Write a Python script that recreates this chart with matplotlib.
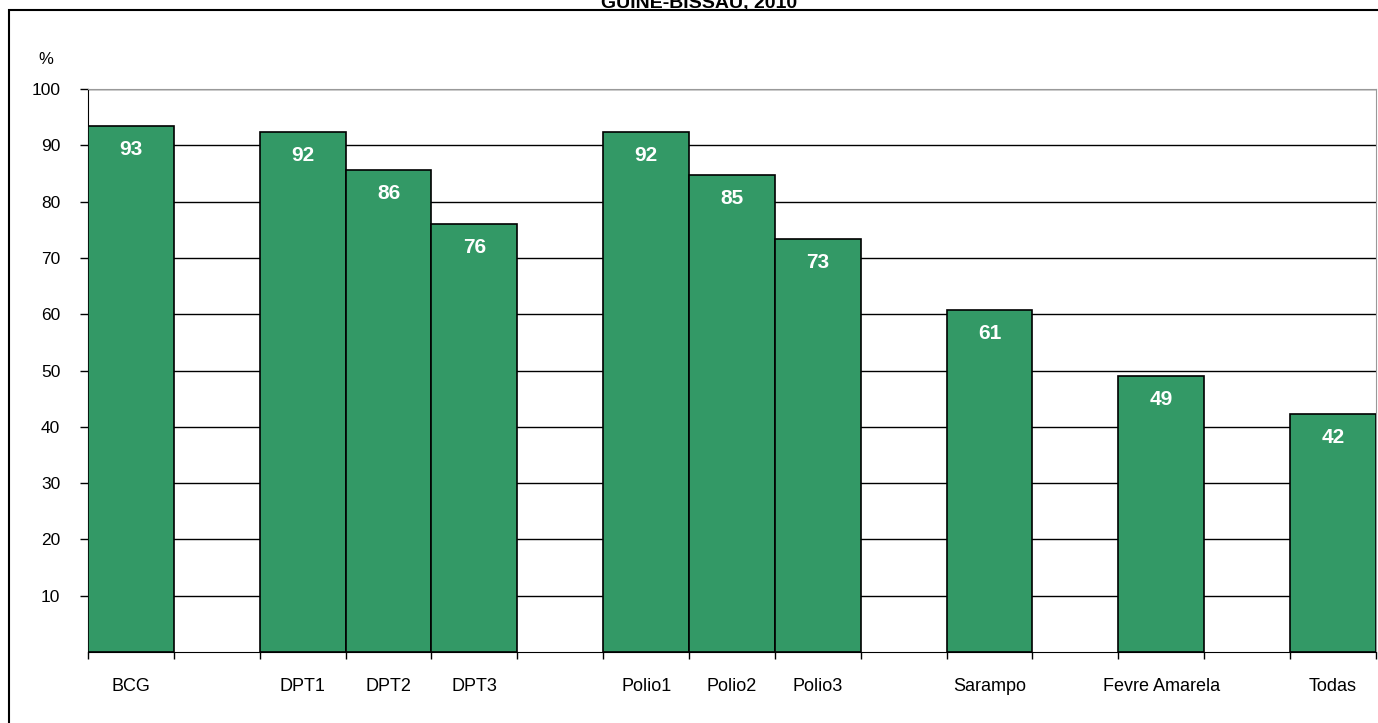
import numpy as np
import matplotlib
matplotlib.use('Agg')
import matplotlib.pyplot as plt
from matplotlib.patches import Rectangle

# data (blank categories = empty columns of the original sheet)
categories = ['BCG', '', 'DPT1', 'DPT2', 'DPT3', '', 'Polio1', 'Polio2', 'Polio3',
              '', 'Sarampo', '', 'Fevre Amarela', '', 'Todas']
coverage = [93.4, None, 92.3, 85.6, 76.0, None, 92.3, 84.8, 73.4,
            None, 60.7, None, 49.0, None, 42.3]
yticks = [10, 20, 30, 40, 50, 60, 70, 80, 90, 100]
title = 'GUINÉ-BISSAU, 2010'

plt.rcParams['font.family'] = ['Liberation Sans', 'DejaVu Sans']

fig = plt.figure(figsize=(13.78, 7.23), dpi=100)
ax = fig.add_axes([0.0639, 0.0982, 0.9346, 0.7787])

vals = np.array([np.nan if v is None else v for v in coverage])
x = np.arange(len(categories))
bars = ax.bar(x, vals, width=1.0, color='#339966', edgecolor='black',
              linewidth=1.2, zorder=3)

for xi, v in zip(x, vals):
    if np.isnan(v):
        continue
    ax.annotate('%.0f' % v, (xi, v), xytext=(0, -17), textcoords='offset points',
                ha='center', va='center', color='white', fontsize=15,
                fontweight='bold', zorder=4)

ax.set_xlim(-0.5, len(categories) - 0.5)
ax.set_ylim(0, 100)
ax.set_yticks(yticks)
ax.set_yticklabels([str(t) for t in yticks], fontsize=12.5)
ax.yaxis.grid(True, color='black', linewidth=1.0, zorder=0)
ax.set_axisbelow(True)

# category labels under each column, ticks on the column borders
ax.set_xticks(x)
ax.set_xticklabels(categories, fontsize=13)
ax.tick_params(axis='x', which='major', length=0, pad=19)
ax.set_xticks(np.arange(-0.5, len(categories)), minor=True)
ax.tick_params(axis='x', which='minor', length=5, width=1, color='black')
ax.tick_params(axis='y', length=6, width=1, pad=14)

for s in ['top', 'right']:
    ax.spines[s].set_color('#999999')
ax.spines['left'].set_color('black')
ax.spines['bottom'].set_color('black')

fig.text(46 / 1378, 1 - 60 / 723, '%', fontsize=12, ha='center', va='center')
fig.text(0.507, 1 - 8 / 723, title, fontsize=14, fontweight='bold',
         ha='center', va='baseline')

fig.patches.append(Rectangle((9 / 1378, -0.02), 1.0, 1 - 10 / 723 + 0.02,
                             transform=fig.transFigure, fill=False,
                             edgecolor='black', linewidth=1.5))

fig.savefig('out.png', dpi=100)
